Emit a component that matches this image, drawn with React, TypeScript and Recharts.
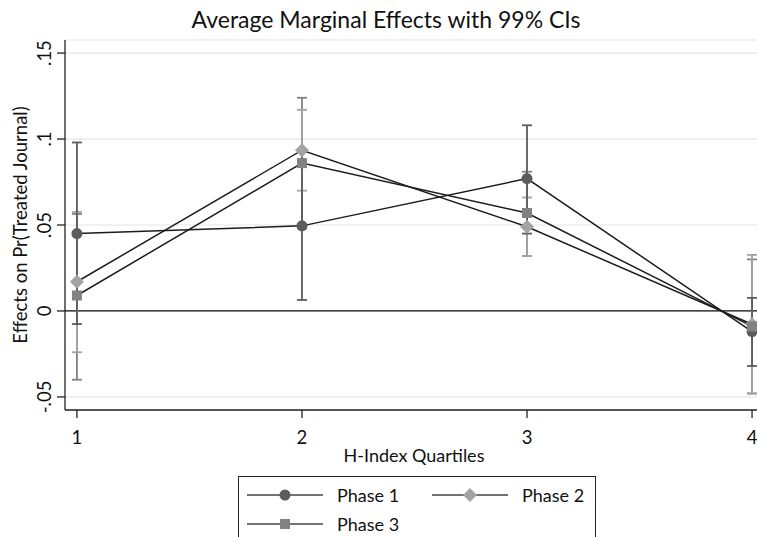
import React from 'react';
import {
  ComposedChart,
  Line,
  XAxis,
  YAxis,
  CartesianGrid,
  ReferenceLine,
  ErrorBar,
  Label,
} from 'recharts';

// H-index quartiles on the x axis
const quartiles = [1, 2, 3, 4];

// Average marginal effects and 99% confidence bounds per phase
const phase1 = [0.045, 0.0495, 0.077, -0.012];
const phase1Low = [-0.0076, 0.0064, 0.045, -0.032];
const phase1High = [0.098, 0.0925, 0.108, 0.0076];

const phase2 = [0.017, 0.0935, 0.049, -0.0077];
const phase2Low = [-0.024, 0.07, 0.032, -0.048];
const phase2High = [0.0576, 0.117, 0.066, 0.0326];

const phase3 = [0.009, 0.086, 0.057, -0.009];
const phase3Low = [-0.04, 0.048, 0.032, -0.048];
const phase3High = [0.0564, 0.124, 0.081, 0.03];

const yTicks = [-0.05, 0, 0.05, 0.1, 0.15];
const yTickLabels = ['-.05', '0', '.05', '.1', '.15'];
const seriesNames = ['Phase 1', 'Phase 2', 'Phase 3'];

const FONT = 'Lato, "Open Sans", sans-serif';
const C1 = '#5c5c5c';
const C2 = '#a3a3a3';
const C3 = '#818181';
const LINE = '#1c1c1c';

const data = quartiles.map((q, i) => ({
  q,
  p1: phase1[i],
  p2: phase2[i],
  p3: phase3[i],
  e1: [phase1[i] - phase1Low[i], phase1High[i] - phase1[i]],
  e2: [phase2[i] - phase2Low[i], phase2High[i] - phase2[i]],
  e3: [phase3[i] - phase3Low[i], phase3High[i] - phase3[i]],
}));

const Circle = ({ cx, cy, fill }: any) => <circle cx={cx} cy={cy} r={5.5} fill={fill} />;
const Diamond = ({ cx, cy, fill }: any) => (
  <polygon
    points={`${cx},${cy - 7} ${cx + 7},${cy} ${cx},${cy + 7} ${cx - 7},${cy}`}
    fill={fill}
  />
);
const Square = ({ cx, cy, fill }: any) => (
  <rect x={cx - 5} y={cy - 5} width={10} height={10} fill={fill} />
);

const dotFor = (Shape: any, fill: string) => (props: any) => {
  const { cx, cy, index } = props;
  if (cx == null || cy == null) return <g key={index} />;
  return (
    <g key={index}>
      <Shape cx={cx} cy={cy} fill={fill} />
    </g>
  );
};

const YTick = (props: any) => {
  const { y, payload } = props;
  const idx = yTicks.indexOf(payload.value);
  return (
    <text
      transform={`translate(44, ${y}) rotate(-90)`}
      textAnchor="middle"
      dominantBaseline="central"
      fontFamily={FONT}
      fontSize={18.5}
      fill="#111"
    >
      {idx >= 0 ? yTickLabels[idx] : payload.value}
    </text>
  );
};

const XTick = (props: any) => {
  const { x, payload } = props;
  return (
    <text
      x={x}
      y={437}
      textAnchor="middle"
      dominantBaseline="central"
      fontFamily={FONT}
      fontSize={18.5}
      fill="#111"
    >
      {payload.value}
    </text>
  );
};

const LegendBox = () => {
  const items = [
    { name: seriesNames[0], Shape: Circle, fill: C1, x: 247, y: 495 },
    { name: seriesNames[1], Shape: Diamond, fill: C2, x: 432, y: 495 },
    { name: seriesNames[2], Shape: Square, fill: C3, x: 247, y: 524 },
  ];
  return (
    <svg
      width={757}
      height={537}
      style={{ position: 'absolute', left: 0, top: 0, pointerEvents: 'none' }}
    >
      <rect x={238.5} y={476.5} width={357} height={80} fill="#fff" stroke="#222" strokeWidth={1} />
      {items.map((it) => (
        <g key={it.name}>
          <line x1={it.x} x2={it.x + 76} y1={it.y} y2={it.y} stroke="#444" strokeWidth={1.6} />
          <it.Shape cx={it.x + 38} cy={it.y} fill={it.fill} />
          <text
            x={it.x + 90}
            y={it.y}
            dominantBaseline="central"
            fontFamily={FONT}
            fontSize={18}
            fill="#111"
          >
            {it.name}
          </text>
        </g>
      ))}
    </svg>
  );
};

export default function App() {
  return (
    <div
      style={{
        position: 'absolute',
        left: 0,
        top: 0,
        width: 757,
        height: 537,
        background: '#fff',
        overflow: 'hidden',
      }}
    >
      <ComposedChart
        width={757}
        height={537}
        data={data}
        margin={{ top: 40, right: 0, bottom: 0, left: 0 }}
      >
        <text
          x={386}
          y={19}
          textAnchor="middle"
          dominantBaseline="central"
          fontFamily={FONT}
          fontSize={23}
          fill="#111"
        >
          Average Marginal Effects with 99% CIs
        </text>
        <CartesianGrid horizontal vertical={false} stroke="#e6e6e6" strokeWidth={1.2} />
        <XAxis
          dataKey="q"
          type="number"
          domain={[0.947, 4.022]}
          allowDataOverflow
          ticks={quartiles}
          height={127}
          tickSize={8}
          tick={<XTick />}
          stroke="#222"
          axisLine={{ stroke: '#222', strokeWidth: 1.3 }}
          tickLine={{ stroke: '#222', strokeWidth: 1.3 }}
        >
          <Label
            content={() => (
              <text
                x={414}
                y={455}
                textAnchor="middle"
                dominantBaseline="central"
                fontFamily={FONT}
                fontSize={18}
                fill="#111"
              >
                H-Index Quartiles
              </text>
            )}
          />
        </XAxis>
        <YAxis
          type="number"
          domain={[-0.0576, 0.1576]}
          allowDataOverflow
          ticks={yTicks}
          width={65}
          tickSize={8}
          tick={<YTick />}
          axisLine={{ stroke: '#222', strokeWidth: 1.3 }}
          tickLine={{ stroke: '#222', strokeWidth: 1.3 }}
        >
          <Label
            content={() => (
              <text
                transform="translate(20, 225) rotate(-90)"
                textAnchor="middle"
                dominantBaseline="central"
                fontFamily={FONT}
                fontSize={18.5}
                fill="#111"
              >
                Effects on Pr(Treated Journal)
              </text>
            )}
          />
        </YAxis>
        <ReferenceLine y={0} stroke="#111" strokeWidth={1.3} />

        {/* confidence intervals */}
        <Line dataKey="p3" stroke="none" dot={false} isAnimationActive={false} legendType="none">
          <ErrorBar dataKey="e3" width={5} stroke={C3} strokeWidth={1.8} direction="y" />
        </Line>
        <Line dataKey="p2" stroke="none" dot={false} isAnimationActive={false} legendType="none">
          <ErrorBar dataKey="e2" width={5} stroke={C2} strokeWidth={1.8} direction="y" />
        </Line>
        <Line dataKey="p1" stroke="none" dot={false} isAnimationActive={false} legendType="none">
          <ErrorBar dataKey="e1" width={5} stroke={C1} strokeWidth={1.8} direction="y" />
        </Line>

        {/* connecting lines */}
        <Line dataKey="p1" stroke={LINE} strokeWidth={1.5} dot={false} isAnimationActive={false} />
        <Line dataKey="p2" stroke={LINE} strokeWidth={1.5} dot={false} isAnimationActive={false} />
        <Line dataKey="p3" stroke={LINE} strokeWidth={1.5} dot={false} isAnimationActive={false} />

        {/* markers */}
        <Line dataKey="p1" stroke="none" dot={dotFor(Circle, C1)} isAnimationActive={false} />
        <Line dataKey="p2" stroke="none" dot={dotFor(Diamond, C2)} isAnimationActive={false} />
        <Line dataKey="p3" stroke="none" dot={dotFor(Square, C3)} isAnimationActive={false} />
      </ComposedChart>
      <LegendBox />
    </div>
  );
}
